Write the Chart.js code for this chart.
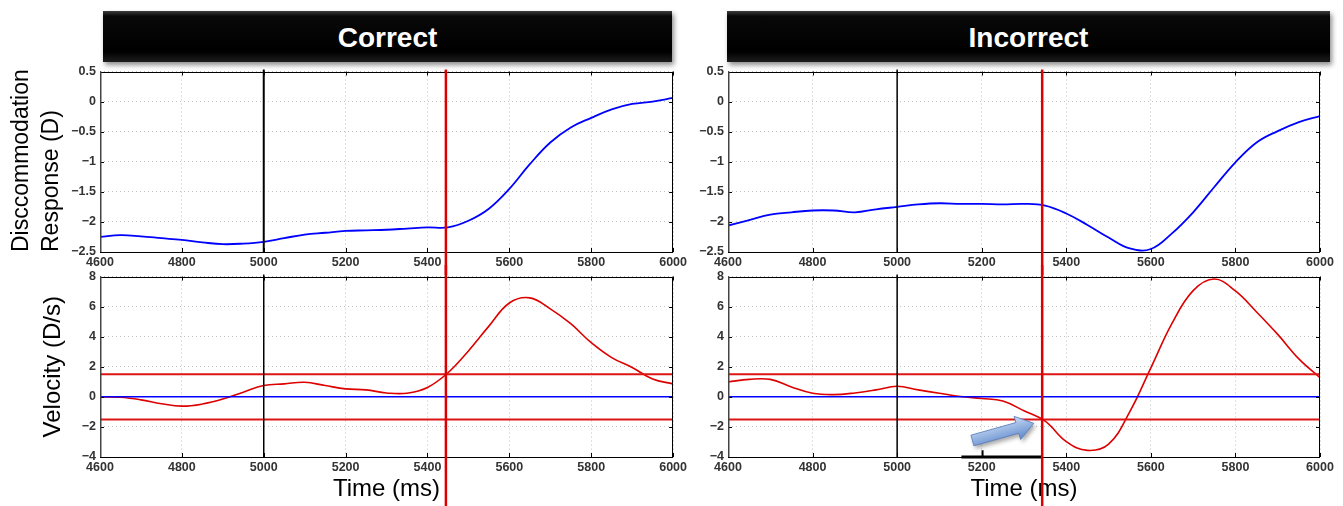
<!DOCTYPE html>
<html lang="en">
<head>
  <meta charset="UTF-8">
  <title>Disccommodation response and velocity: Correct vs Incorrect</title>
  <script src="https://cdn.jsdelivr.net/npm/chart.js"></script>
  <style>
    body {
      margin: 0;
      background: #fff;
      width: 1343px;
      height: 506px;
      overflow: hidden;
      position: relative;
      font-family: 'Liberation Sans', Arial, sans-serif;
    }
    .banner {
      position: absolute;
      top: 11px;
      height: 51px;
      background: linear-gradient(#3c3c3c 0%, #080808 10%, #000 80%, #1e1e1e 100%);
      box-shadow: 2px 3px 5px rgba(0, 0, 0, 0.45);
      color: #fff;
      font-weight: bold;
      font-size: 28px;
      line-height: 53px;
      text-align: center;
    }
    canvas {
      position: absolute;
    }
  </style>
</head>
<body>
  <div class="banner" style="left:103px; width:569px;">Correct</div>
  <div class="banner" style="left:727px; width:603px;">Incorrect</div>

  <canvas id="correctTop" width="690" height="215" style="left:0; top:60px;"></canvas>
  <canvas id="correctBottom" width="690" height="241" style="left:0; top:265px;"></canvas>
  <canvas id="incorrectTop" width="653" height="215" style="left:690px; top:60px;"></canvas>
  <canvas id="incorrectBottom" width="653" height="241" style="left:690px; top:265px;"></canvas>

  <script>
    // time axis (ms)
    const times = [4600, 4650, 4700, 4750, 4800, 4850, 4900, 4950, 5000, 5050,
                   5100, 5150, 5200, 5250, 5300, 5350, 5400, 5450, 5500, 5550,
                   5600, 5650, 5700, 5750, 5800, 5850, 5900, 5950, 6000];
    const timeTicks = [4600, 4800, 5000, 5200, 5400, 5600, 5800, 6000];
    const responseTicks = [0.5, 0, -0.5, -1, -1.5, -2, -2.5];
    const velocityTicks = [8, 6, 4, 2, 0, -2, -4];

    // Correct trial
    const correctResponse = [-2.25, -2.22, -2.24, -2.27, -2.30, -2.34, -2.37, -2.36, -2.33, -2.27,
                             -2.21, -2.18, -2.15, -2.14, -2.13, -2.11, -2.09, -2.09, -1.98, -1.78,
                             -1.45, -1.04, -0.68, -0.43, -0.27, -0.13, -0.04, 0.00, 0.06];
    const correctVelocity = [0.00, -0.03, -0.20, -0.46, -0.62, -0.48, -0.15, 0.31, 0.75, 0.86,
                             0.97, 0.75, 0.53, 0.46, 0.26, 0.24, 0.62, 1.60, 3.05, 4.70,
                             6.24, 6.58, 5.85, 4.86, 3.60, 2.61, 1.95, 1.19, 0.86];

    // Incorrect trial
    const incorrectResponse = [-2.06, -1.97, -1.88, -1.84, -1.81, -1.81, -1.84, -1.79, -1.75, -1.71,
                               -1.69, -1.70, -1.70, -1.71, -1.70, -1.73, -1.86, -2.05, -2.26, -2.44,
                               -2.45, -2.19, -1.84, -1.42, -1.01, -0.68, -0.49, -0.34, -0.24];
    const incorrectVelocity = [0.99, 1.16, 1.16, 0.66, 0.24, 0.15, 0.26, 0.46, 0.70, 0.46,
                               0.24, 0.02, -0.11, -0.28, -0.93, -1.62, -2.98, -3.56, -3.15, -1.00,
                               1.93, 4.88, 7.06, 7.83, 7.04, 5.64, 4.15, 2.52, 1.27];

    // markers
    const stimulusTime = 5000;
    const detectCorrect = 5445;
    const detectIncorrect = 5343;
    const velocityThresholds = [1.5, -1.5];
    const arrowFrom = [5178, -2.9];
    const arrowTo = [5323, -1.76];
    const axisBarTimes = [5152, 5345];
    const axisBarTick = [5202, -3.55];

    const fontFamily = "'Liberation Sans', Arial, sans-serif";
    const tickFont = { family: fontFamily, size: 12.5, weight: 'bold' };
    const fmt = v => String(v).replace('-', '\u2212');

    // black box round the plot + small inward ticks (matlab style)
    const framePlugin = {
      id: 'frame',
      afterDatasetsDraw(chart) {
        const { ctx, chartArea: a, scales } = chart;
        ctx.save();
        ctx.strokeStyle = '#000';
        ctx.lineWidth = 1;
        ctx.strokeRect(Math.round(a.left) + 0.5, Math.round(a.top) + 0.5,
                       Math.round(a.width) - 1, Math.round(a.height) - 1);
        ctx.beginPath();
        scales.x.ticks.forEach(t => {
          const px = Math.round(scales.x.getPixelForValue(t.value)) + 0.5;
          ctx.moveTo(px, a.top); ctx.lineTo(px, a.top + 4);
          ctx.moveTo(px, a.bottom); ctx.lineTo(px, a.bottom - 4);
        });
        scales.y.ticks.forEach(t => {
          const py = Math.round(scales.y.getPixelForValue(t.value)) + 0.5;
          ctx.moveTo(a.left, py); ctx.lineTo(a.left + 4, py);
          ctx.moveTo(a.right, py); ctx.lineTo(a.right - 4, py);
        });
        ctx.stroke();
        // slightly heavier left axis
        ctx.strokeStyle = '#444';
        ctx.lineWidth = 1.5;
        ctx.beginPath();
        ctx.moveTo(Math.round(a.left) + 0.75, a.top);
        ctx.lineTo(Math.round(a.left) + 0.75, a.bottom);
        ctx.stroke();
        ctx.restore();
      }
    };

    // vertical event lines (stimulus and detection)
    function markPlugin(marks) {
      return {
        id: 'marks',
        afterDatasetsDraw(chart) {
          const { ctx, chartArea: a, scales: { x } } = chart;
          marks.forEach(m => {
            const px = x.getPixelForValue(m.value);
            ctx.save();
            ctx.strokeStyle = m.color;
            ctx.lineWidth = m.width;
            ctx.beginPath();
            ctx.moveTo(px, m.fromEdge ? 0 : a.top - 2);
            ctx.lineTo(px, m.toEdge ? chart.height : a.bottom);
            ctx.stroke();
            ctx.restore();
          });
        }
      };
    }

    function arrowPlugin(from, to) {
      return {
        id: 'arrow',
        afterDatasetsDraw(chart) {
          const { ctx, scales: { x, y } } = chart;
          const x0 = x.getPixelForValue(from[0]), y0 = y.getPixelForValue(from[1]);
          const x1 = x.getPixelForValue(to[0]), y1 = y.getPixelForValue(to[1]);
          const len = Math.hypot(x1 - x0, y1 - y0);
          const sw = 5.5, hw = 12, hl = 17;
          ctx.save();
          ctx.translate(x0, y0);
          ctx.rotate(Math.atan2(y1 - y0, x1 - x0));
          ctx.beginPath();
          ctx.moveTo(0, -sw);
          ctx.lineTo(len - hl, -sw);
          ctx.lineTo(len - hl, -hw);
          ctx.lineTo(len, 0);
          ctx.lineTo(len - hl, hw);
          ctx.lineTo(len - hl, sw);
          ctx.lineTo(0, sw);
          ctx.closePath();
          const g = ctx.createLinearGradient(0, -hw, 0, hw);
          g.addColorStop(0, '#c9dbf4');
          g.addColorStop(1, '#5d88cc');
          ctx.shadowColor = 'rgba(0,0,0,0.35)';
          ctx.shadowOffsetX = 2;
          ctx.shadowOffsetY = 3;
          ctx.shadowBlur = 4;
          ctx.fillStyle = g;
          ctx.fill();
          ctx.shadowColor = 'transparent';
          ctx.strokeStyle = '#5b7fbd';
          ctx.lineWidth = 0.8;
          ctx.stroke();
          ctx.restore();
        }
      };
    }

    function makeChart(id, cfg) {
      const datasets = [];
      (cfg.hlines || []).forEach(h => {
        datasets.push({
          data: [{ x: times[0], y: h.value }, { x: times[times.length - 1], y: h.value }],
          borderColor: h.color, borderWidth: h.width, pointRadius: 0
        });
      });
      (cfg.extra || []).forEach(d => datasets.push(d));
      datasets.push({
        data: times.map((t, i) => ({ x: t, y: cfg.values[i] })),
        borderColor: cfg.color,
        borderWidth: cfg.lineWidth,
        pointRadius: 0,
        tension: 0.4
      });

      const plugins = [framePlugin, markPlugin(cfg.marks)];
      if (cfg.arrow) plugins.push(arrowPlugin(cfg.arrow[0], cfg.arrow[1]));

      return new Chart(document.getElementById(id), {
        type: 'line',
        data: { datasets },
        options: {
          responsive: false,
          animation: false,
          devicePixelRatio: 1,
          layout: { padding: { top: 10, right: cfg.padRight, left: 0, bottom: 0 } },
          plugins: { legend: { display: false }, tooltip: { enabled: false } },
          scales: {
            x: {
              type: 'linear',
              min: 4600,
              max: 6000,
              afterBuildTicks: s => { s.ticks = timeTicks.map(v => ({ value: v })); },
              afterFit: s => { s.height = cfg.xAxisHeight; },
              ticks: { font: tickFont, color: '#333', padding: 3, maxRotation: 0, autoSkip: false, callback: v => fmt(v) },
              grid: { color: '#c2c2c2', drawTicks: false },
              border: { display: false, dash: [1, 3] },
              title: cfg.xTitle
                ? { display: true, text: cfg.xTitle, color: '#000', padding: { top: 0, bottom: 2 },
                    font: { family: fontFamily, size: 24, lineHeight: 1.2 } }
                : { display: false }
            },
            y: {
              type: 'linear',
              min: cfg.yRange[0],
              max: cfg.yRange[1],
              afterBuildTicks: s => { s.ticks = cfg.yTicks.map(v => ({ value: v })); },
              afterFit: s => { s.width = cfg.yAxisWidth; },
              ticks: { font: tickFont, color: '#333', padding: 4, callback: v => fmt(v) },
              grid: { color: '#c2c2c2', drawTicks: false },
              border: { display: false, dash: [1, 3] },
              title: cfg.yTitle
                ? { display: true, text: cfg.yTitle, color: '#000', align: cfg.yTitleAlign || 'center',
                    padding: { top: cfg.yTitlePad, bottom: 0 },
                    font: { family: fontFamily, size: cfg.yTitleSize, lineHeight: cfg.yTitleLine } }
                : { display: false }
            }
          }
        },
        plugins: plugins
      });
    }

    const thresholdLines = [
      { value: 0, color: '#0000ff', width: 1.5 },
      { value: velocityThresholds[0], color: '#dd1515', width: 2 },
      { value: velocityThresholds[1], color: '#dd1515', width: 2 }
    ];

    makeChart('correctTop', {
      values: correctResponse, color: '#0000ff', lineWidth: 1.8,
      yRange: [-2.5, 0.5], yTicks: responseTicks,
      yTitle: ['Disccommodation', 'Response (D)'], yTitleAlign: 'start',
      yTitlePad: 7, yTitleSize: 23, yTitleLine: 1.3,
      yAxisWidth: 100, padRight: 16, xAxisHeight: 23,
      marks: [
        { value: stimulusTime, color: '#000', width: 2 },
        { value: detectCorrect, color: '#dd0000', width: 2.5, toEdge: true }
      ]
    });

    makeChart('correctBottom', {
      values: correctVelocity, color: '#dd0000', lineWidth: 1.6,
      yRange: [-4, 8], yTicks: velocityTicks,
      yTitle: 'Velocity (D/s)', yTitlePad: 38, yTitleSize: 24, yTitleLine: 1.25,
      xTitle: 'Time (ms)',
      yAxisWidth: 100, padRight: 16, xAxisHeight: 49,
      hlines: thresholdLines,
      marks: [
        { value: stimulusTime, color: '#000', width: 1.5 },
        { value: detectCorrect, color: '#dd0000', width: 2.5, fromEdge: true, toEdge: true }
      ]
    });

    makeChart('incorrectTop', {
      values: incorrectResponse, color: '#0000ff', lineWidth: 1.8,
      yRange: [-2.5, 0.5], yTicks: responseTicks,
      yAxisWidth: 38, padRight: 23, xAxisHeight: 23,
      marks: [
        { value: stimulusTime, color: '#000', width: 1.5 },
        { value: detectIncorrect, color: '#dd0000', width: 2.5, toEdge: true }
      ]
    });

    makeChart('incorrectBottom', {
      values: incorrectVelocity, color: '#dd0000', lineWidth: 1.6,
      yRange: [-4, 8], yTicks: velocityTicks,
      xTitle: 'Time (ms)',
      yAxisWidth: 38, padRight: 23, xAxisHeight: 49,
      hlines: thresholdLines,
      extra: [
        { data: [{ x: axisBarTimes[0], y: -4 }, { x: axisBarTimes[1], y: -4 }],
          borderColor: '#000', borderWidth: 3, pointRadius: 0, clip: false },
        { data: [{ x: axisBarTick[0], y: -4 }, { x: axisBarTick[0], y: axisBarTick[1] }],
          borderColor: '#000', borderWidth: 2, pointRadius: 0, clip: false }
      ],
      marks: [
        { value: stimulusTime, color: '#000', width: 1.5 },
        { value: detectIncorrect, color: '#dd0000', width: 2.5, fromEdge: true, toEdge: true }
      ],
      arrow: [arrowFrom, arrowTo]
    });
  </script>
</body>
</html>
